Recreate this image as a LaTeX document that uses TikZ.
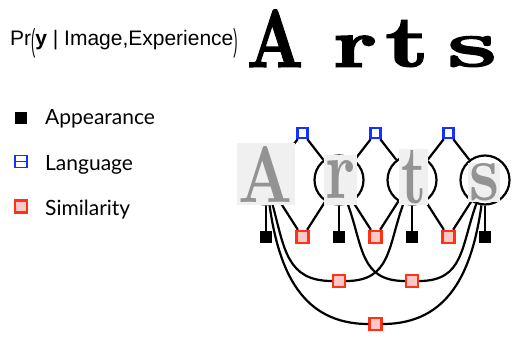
\documentclass[tikz,border=0pt]{standalone}
\usepackage{fontspec}
\newfontfamily\titlefont{Liberation Sans}
\newfontfamily\keyfont{Lato}
\newfontfamily\heavyfont[FakeBold=2]{lmroman10-bold.otf}
\definecolor{langblue}{RGB}{20,50,255}
\definecolor{simred}{RGB}{255,50,20}
\definecolor{simfill}{RGB}{255,200,200}
\newcommand{\tallparen}[1]{\raisebox{-6pt}{\scalebox{0.6}[1.5]{#1}}}

\begin{document}
\begin{tikzpicture}[x=1pt,y=1pt]
\tikzstyle{var}=[circle, draw, line width=2.2pt, minimum size=49pt, inner sep=0pt]
\tikzstyle{appear}=[rectangle, fill=black, minimum size=12pt, inner sep=0pt]
\tikzstyle{lang}=[rectangle, draw=langblue, fill=white, line width=2.4pt, minimum size=10pt, inner sep=0pt]
\tikzstyle{simil}=[rectangle, draw=simred, fill=simfill, line width=2.4pt, minimum size=12pt, inner sep=0pt]
\tikzstyle{glyph}=[fill=gray!12, text=gray!85, inner sep=0pt]
\tikzstyle{edge}=[line width=2.2pt]
\tikzstyle{key}=[anchor=base west, inner sep=0pt, font=\keyfont\fontsize{21}{22}\selectfont]

\useasboundingbox (0,0) rectangle (519,348);

% title and the word
\node[anchor=base west, inner sep=0pt, font=\titlefont\fontsize{21}{22}\selectfont] (title) at (10,302)
  {Pr\tallparen{(}\textbf{y} | Image,Experience\tallparen{)}};
\foreach \name/\ch/\x/\w/\h in {bigA/A/247/56/57, bigr/r/333/44/31, bigt/t/385/44/46, bigs/s/447/50/30} {
\node[anchor=south west, inner sep=0pt] (\name) at (\x,281) {\resizebox{\w pt}{\h pt}{\heavyfont\ch}};
}

% factor graph
\foreach \i/\x in {1/266,2/339,3/412,4/485} {
\node[var] (v\i) at (\x,168) {};
\node[appear] (app\i) at (\x,111) {};
}
\foreach \i/\x in {1/302.5,2/375.5,3/448.5} {
\node[lang] (lang\i) at (\x,215) {};
\node[simil] (sim\i) at (\x,111) {};
}
\node[simil] (sim13) at (339,67) {};
\node[simil] (sim24) at (412,67) {};
\node[simil] (sim14) at (375.5,24) {};

\foreach \i/\j in {1/2,2/3,3/4} {
\draw[edge] (v\i) -- (lang\i) -- (v\j) -- (sim\i) -- (v\i);
}
\foreach \i in {1,...,4} {
\draw[edge] (v\i) -- (app\i);
}
\draw[edge] (v1) to[out=-75,in=180,looseness=1.2] (sim13) to[out=0,in=-110,looseness=1.2] (v3);
\draw[edge] (v2) to[out=-70,in=180,looseness=1.2] (sim24) to[out=0,in=-110,looseness=1.2] (v4);
\draw[edge] (v1) to[out=-82,in=180,looseness=1.1] (sim14) to[out=0,in=-98,looseness=1.1] (v4);

% letter images
\foreach \name/\ch/\x/\y/\bw/\bh/\gw/\gh in {imgA/A/266/174/58/62/54/56, imgr/r/340.5/168/33/50/30/38, imgt/t/413.5/171/29/56/25/53, imgs/s/484/165.5/32/39/30/37} {
\node[glyph, minimum width=\bw pt, minimum height=\bh pt] (\name) at (\x,\y) {\resizebox{\gw pt}{\gh pt}{\bfseries\ch}};
}

% legend
\node[appear] (keyapp) at (21,230) {};
\node[lang, minimum size=12pt, line width=1.8pt, path picture={\draw[langblue, line width=1.8pt] (path picture bounding box.west) -- (path picture bounding box.east);}] (keylang) at (21,186.5) {};
\node[simil, minimum size=12pt] (keysim) at (21,141.5) {};
\node[key] (keyapptext) at (45,223) {Appearance};
\node[key] (keylangtext) at (45,177) {Language};
\node[key] (keysimtext) at (45,132) {Similarity};

\end{tikzpicture}
\end{document}
